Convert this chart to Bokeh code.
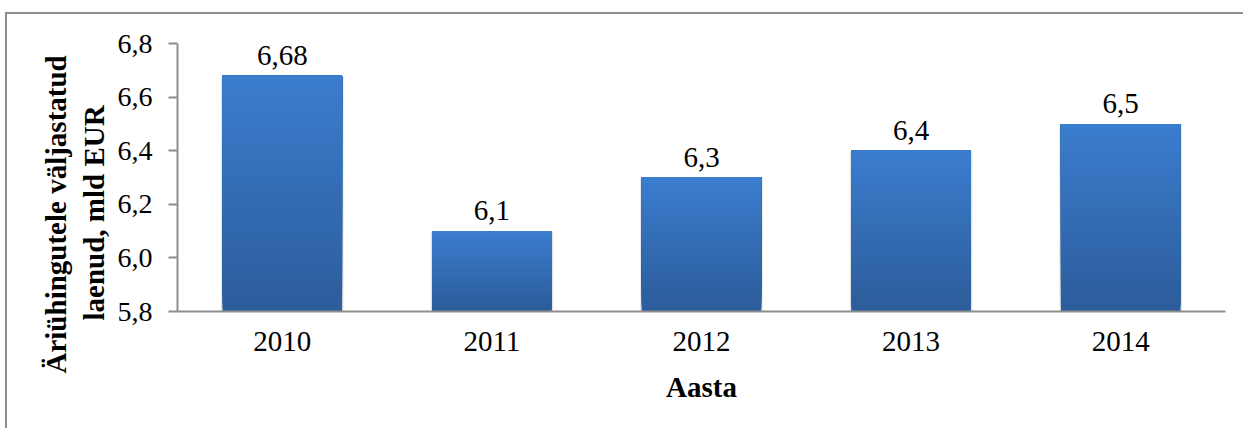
import numpy as np
from bokeh.plotting import figure
from bokeh.models import Range1d, ColumnDataSource, CustomJSTickFormatter, FixedTicker, Title
from bokeh.core.properties import value
from bokeh.embed import file_html
from bokeh.resources import INLINE

# ---- data ----
years = ["2010", "2011", "2012", "2013", "2014"]
loans = [6.68, 6.1, 6.3, 6.4, 6.5]
value_labels = ["6,68", "6,1", "6,3", "6,4", "6,5"]
y_ticks = [5.8, 6.0, 6.2, 6.4, 6.6, 6.8]
y_title_lines = ["Äriühingutele väljastatud", "laenud, mld EUR"]
x_title = "Aasta"

FONT = "Liberation Serif"
BASE = 5.8
BAR_W = 0.57

p = figure(width=1238, height=416, x_range=years, y_range=Range1d(5.8, 6.8),
           output_backend="svg", toolbar_location=None,
           min_border_left=170, min_border_right=20, min_border_top=29, min_border_bottom=119)
p.styles = {"border-top": "2px solid #8e8e8e", "border-left": "2px solid #8e8e8e",
            "margin-left": "5px", "margin-top": "12px"}
p.outline_line_color = None
p.xgrid.grid_line_color = None
p.ygrid.grid_line_color = None
p.background_fill_color = "white"
p.border_fill_color = "white"

# subtle shadow
p.vbar(x=years, bottom=BASE, top=[v - 0.004 for v in loans],
       width=BAR_W + 0.014, fill_color="#cfcfcf", fill_alpha=0.6, line_color=None)

# gradient bars built from data (overlapping slices, light at top, dark at bottom)
top_rgb = np.array([0x3B, 0x7D, 0xCE])
bot_rgb = np.array([0x2C, 0x5C, 0x9A])
N = 60
xs, bots, tops, cols = [], [], [], []
for yr, v in zip(years, loans):
    edges = np.linspace(BASE, v, N + 1)
    for i in range(N):
        f = (i + 0.5) / N
        c = bot_rgb + (top_rgb - bot_rgb) * f
        xs.append(yr)
        bots.append(edges[i])
        tops.append(v)
        cols.append("#%02x%02x%02x" % tuple(int(round(t)) for t in c))
src = ColumnDataSource(dict(x=xs, bottom=bots, top=tops, color=cols))
p.vbar(x="x", bottom="bottom", top="top", width=BAR_W, source=src,
       fill_color="color", line_color=None)

# value labels
lab = ColumnDataSource(dict(x=years, y=loans, t=value_labels))
p.text(x="x", y="y", text="t", source=lab, text_align="center", text_baseline="bottom",
       y_offset=-11, text_font=value(FONT), text_font_size="29px", text_color="black")

# axes
p.yaxis.ticker = FixedTicker(ticks=y_ticks)
p.yaxis.formatter = CustomJSTickFormatter(code="return tick.toFixed(1).replace('.', ',');")
for ax in (p.xaxis[0], p.yaxis[0]):
    ax.axis_line_color = "#8e8e8e"
    ax.axis_line_width = 2
    ax.major_tick_line_color = "#8e8e8e"
    ax.major_tick_line_width = 2
    ax.minor_tick_line_color = None
    ax.major_label_text_font = FONT
    ax.major_label_text_color = "black"
    ax.axis_label_text_font = FONT
    ax.axis_label_text_font_style = "bold"
    ax.axis_label_text_color = "black"
    ax.axis_label_text_font_size = "29px"

p.yaxis.major_tick_in = 0
p.yaxis.major_tick_out = 9
p.yaxis.major_label_standoff = 16
p.yaxis.major_label_text_font_size = "28px"

# y title: two rotated lines in the left panel, shifted down like the reference
for txt, off, so in [(y_title_lines[1], -9, 9), (y_title_lines[0], -62, 0)]:
    p.add_layout(Title(text=txt, align="left", offset=off, standoff=so,
                       text_font=FONT, text_font_style="bold", text_font_size="29px",
                       text_color="black"), "left")

p.xaxis.major_tick_in = 0
p.xaxis.major_tick_out = 0
p.xaxis.major_label_standoff = 20
p.xaxis.major_label_text_font_size = "29px"
p.xaxis.axis_label = x_title
p.xaxis.axis_label_standoff = 17

open("out.html", "w").write(file_html(p, INLINE))
